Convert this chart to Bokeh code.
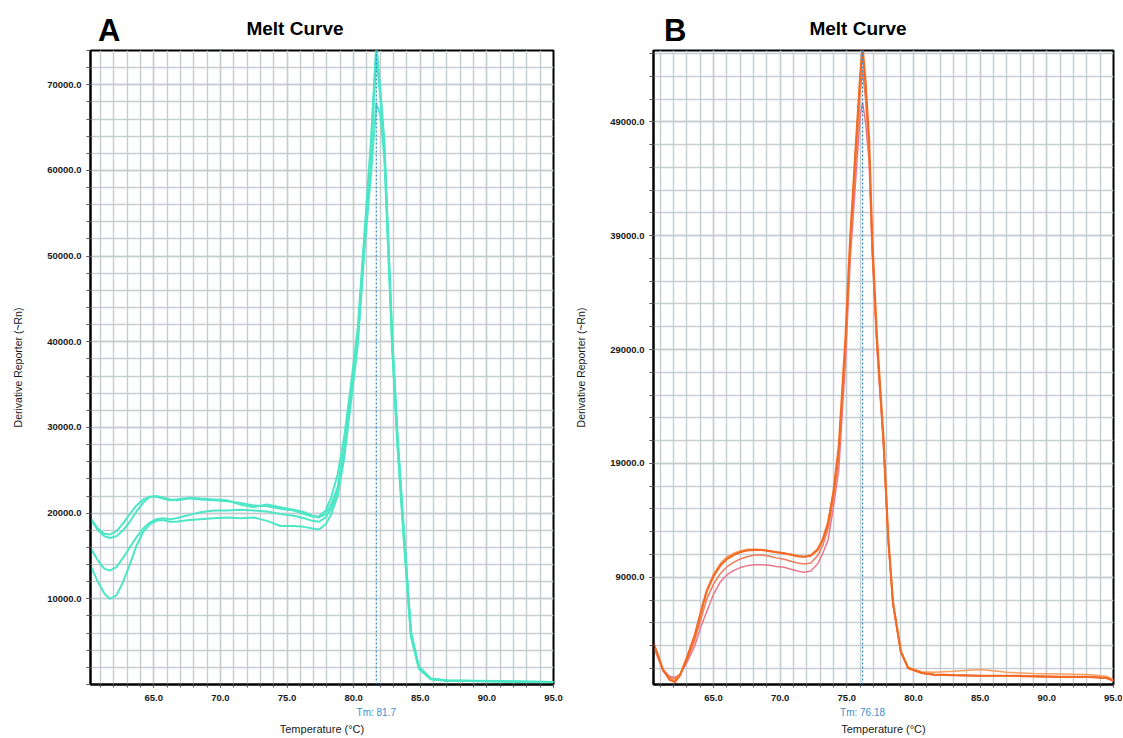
from bokeh.plotting import figure
from bokeh.layouts import row, column
from bokeh.models import (FixedTicker, NumeralTickFormatter, PrintfTickFormatter,
                          LinearAxis, Span, Div)
from bokeh.embed import file_html
from bokeh.resources import INLINE

FONT = "Liberation Sans"

# ---------------- Panel A data (cyan melt curves) ----------------
temp_a = [60.3, 60.8, 61.3, 61.7, 62.2, 62.7, 63.2, 63.7, 64.2, 64.7, 65.2, 65.7, 66.2, 66.7,
          67.2, 67.7, 68.5, 69.5, 70.5, 71.5, 72.5, 73.5, 74.5, 75.5, 76.3, 76.9, 77.4, 77.9,
          78.3, 78.8, 79.3, 79.8, 80.3, 80.8, 81.3, 81.7, 82.0, 82.3, 82.6, 82.9, 83.3, 83.8,
          84.3, 84.9, 85.8, 87.0, 89.0, 91.0, 93.0, 95.0]
a_curve1 = [19300, 18200, 17600, 17500, 17900, 18800, 19900, 20900, 21600, 21900, 21900, 21700, 21500, 21600,
            21700, 21700, 21600, 21500, 21400, 21200, 20900, 20800, 20500, 20300, 19900, 19600, 19600, 20300,
            21800, 24500, 29000, 35000, 41500, 52500, 63500, 74800, 69500, 63500, 52000, 40500, 29000, 17400,
            6200, 2100, 700, 500, 450, 400, 350, 300]
a_curve2 = [19200, 18000, 17300, 17100, 17300, 18000, 19000, 20200, 21200, 21900, 22000, 21800, 21600, 21500,
            21600, 21800, 21700, 21600, 21500, 21000, 20700, 21000, 20700, 20400, 20100, 19700, 19500, 19900,
            21000, 23000, 27800, 34000, 40500, 51500, 62500, 74200, 69000, 63000, 51500, 40000, 28500, 17000,
            6000, 2000, 650, 480, 420, 380, 330, 280]
a_curve3 = [15800, 14500, 13500, 13300, 13700, 14800, 16000, 17200, 18200, 18900, 19300, 19400, 19300, 19400,
            19600, 19800, 20100, 20300, 20300, 20400, 20300, 20200, 19900, 19700, 19400, 19100, 19000, 19500,
            20500, 22500, 27000, 33500, 40000, 51000, 61500, 73500, 68500, 62500, 51000, 39500, 28000, 16500,
            5800, 1900, 600, 450, 400, 350, 300, 250]
a_curve4 = [13700, 12000, 10600, 10000, 10400, 12000, 14000, 16200, 17800, 18700, 19100, 19200, 19000, 19000,
            19100, 19200, 19300, 19400, 19500, 19400, 19500, 19100, 18500, 18500, 18400, 18200, 18100, 18700,
            19800, 22000, 26500, 33000, 39500, 50500, 59500, 67800, 66500, 61500, 50500, 39000, 27500, 16000,
            5500, 1800, 600, 450, 400, 350, 300, 250]
tm_a = 81.7

# ---------------- Panel B data (orange melt curves) ----------------
temp_b = [60.3, 60.7, 61.2, 61.7, 62.1, 62.5, 63.0, 63.6, 64.1, 64.5, 65.0, 65.5, 66.0, 66.5, 67.0, 67.5,
          68.1, 68.6, 69.2, 69.7, 70.3, 70.8, 71.3, 71.8, 72.3, 72.8, 73.2, 73.6, 74.0, 74.4, 74.9, 75.25,
          75.7, 76.0, 76.18, 76.4, 76.67, 76.9, 77.26, 77.74, 78.1, 78.46, 79.05, 79.6, 80.6, 81.5, 83.0,
          85.0, 87.0, 89.0, 91.0, 93.0, 94.5, 95.0]
b_curve1 = [3800, 2600, 900, 0, -200, 400, 1900, 3900, 6100, 7800, 9100, 10000, 10600, 10950, 11200, 11350,
            11400, 11400, 11300, 11200, 11100, 11000, 10850, 10800, 10900, 11400, 12300, 13800, 16500, 20500, 30000, 38700,
            47400, 53000, 55600, 52500, 47400, 38700, 30000, 21300, 12600, 6800, 2480, 1030, 600, 450, 400,
            350, 350, 300, 250, 250, 150, -100]
b_curve2 = [3700, 2500, 800, 100, 0, 500, 2000, 4000, 6300, 7900, 9300, 10200, 10800, 11100, 11300, 11450,
            11450, 11400, 11300, 11200, 11100, 10950, 10850, 10800, 10950, 11500, 12400, 13900, 16600, 20400, 29500, 38300,
            47000, 52500, 55000, 52000, 47000, 38500, 29800, 21200, 12500, 6700, 2500, 1100, 700, 650, 750,
            900, 650, 550, 500, 450, 300, 0]
b_curve3 = [3600, 2400, 800, 200, 100, 500, 1700, 3500, 5500, 7100, 8400, 9300, 9900, 10300, 10600, 10800,
            10950, 10950, 10850, 10700, 10580, 10400, 10250, 10160, 10250, 10880, 11800, 13300, 16000, 19500, 29000, 37800,
            46000, 51500, 53600, 51000, 46500, 38000, 29500, 21000, 12400, 6700, 2450, 1000, 600, 450, 400,
            350, 350, 300, 250, 250, 150, -100]
b_curve4 = [3500, 2300, 900, 300, 200, 500, 1500, 3000, 4800, 6000, 7500, 8570, 9200, 9580, 9850, 10000,
            10100, 10100, 10050, 9950, 9870, 9700, 9550, 9430, 9550, 10160, 11100, 12300, 15200, 18500, 28000, 36800,
            44500, 49500, 50700, 49000, 45500, 37500, 29000, 20800, 12300, 6600, 2400, 1000, 600, 450, 400,
            350, 350, 300, 250, 250, 150, -100]
tm_b = 76.18

# ---------------- ticks ----------------
x_major = [65, 70, 75, 80, 85, 90, 95]
x_minor = list(range(61, 96))
ya_major = [10000, 20000, 30000, 40000, 50000, 60000, 70000]
ya_minor = list(range(0, 74001, 2000))
yb_major = [9000, 19000, 29000, 39000, 49000]
yb_minor = list(range(-1000, 56000, 2000))

GRID = "#c6cdd1"
TM_COLOR = "#3b8fd2"
HEADER_H = 42
FIG_H = 695


def make_panel(width, xr, yr, border_left, border_right, ymaj, ymin, tm, tm_fmt):
    p = figure(width=width, height=FIG_H, x_range=xr, y_range=yr,
               output_backend="svg", toolbar_location=None,
               min_border_left=border_left, min_border_right=border_right,
               min_border_top=8, min_border_bottom=51)
    p.background_fill_color = "white"
    p.border_fill_color = "white"
    p.outline_line_color = "black"
    p.outline_line_width = 2
    p.outline_line_alpha = 1

    p.xaxis.ticker = FixedTicker(ticks=x_major, minor_ticks=x_minor)
    p.yaxis.ticker = FixedTicker(ticks=ymaj, minor_ticks=ymin)
    p.xaxis.formatter = NumeralTickFormatter(format="0.0")
    p.yaxis.formatter = NumeralTickFormatter(format="0.0")

    for ax in (p.xaxis[0], p.yaxis[0]):
        ax.axis_line_color = "black"
        ax.axis_line_width = 2
        ax.major_tick_out = 4
        ax.major_tick_in = 0
        ax.minor_tick_out = 4
        ax.minor_tick_in = 0
        ax.major_tick_line_color = "#555555"
        ax.minor_tick_line_color = "#555555"
        ax.major_label_text_font = FONT
        ax.major_label_text_font_size = "9.5px"
        ax.major_label_text_font_style = "bold"
        ax.major_label_text_color = "#1a1a1a"
        ax.major_label_standoff = 5
    p.xaxis.major_tick_out = 3
    p.xaxis.minor_tick_out = 3
    p.xaxis.major_label_standoff = 7

    p.yaxis.axis_label = "Derivative Reporter (~Rn)"
    p.yaxis.axis_label_text_font = FONT
    p.yaxis.axis_label_text_font_size = "10.5px"
    p.yaxis.axis_label_text_font_style = "normal"
    p.yaxis.axis_label_text_color = "#1a1a1a"
    p.yaxis.axis_label_standoff = 20

    # second bottom axis: carries the Tm label and the x-axis title
    tm_axis = LinearAxis(ticker=FixedTicker(ticks=[tm]),
                         formatter=PrintfTickFormatter(format=tm_fmt))
    tm_axis.axis_line_color = None
    tm_axis.major_tick_line_color = None
    tm_axis.minor_tick_line_color = None
    tm_axis.major_tick_out = 0
    tm_axis.major_tick_in = 0
    tm_axis.major_label_standoff = 3
    tm_axis.major_label_text_font = FONT
    tm_axis.major_label_text_font_size = "10px"
    tm_axis.major_label_text_color = TM_COLOR
    tm_axis.axis_label = "Temperature (°C)"
    tm_axis.axis_label_text_font = FONT
    tm_axis.axis_label_text_font_size = "11px"
    tm_axis.axis_label_text_font_style = "normal"
    tm_axis.axis_label_text_color = "#1a1a1a"
    tm_axis.axis_label_standoff = 2
    p.add_layout(tm_axis, "below")

    p.xgrid.grid_line_color = GRID
    p.xgrid.minor_grid_line_color = GRID
    p.ygrid.grid_line_color = GRID
    p.ygrid.minor_grid_line_color = GRID
    for g in (p.xgrid[0], p.ygrid[0]):
        g.grid_line_width = 1.4
        g.minor_grid_line_width = 1.4

    p.add_layout(Span(location=tm, dimension="height", line_color="#2f86c8",
                      line_width=1.2, line_dash="2 2"))
    return p


# ---------------- Panel A ----------------
pa = make_panel(568, (60.25, 95), (0, 74000), 90, 15, ya_major, ya_minor, tm_a, "Tm: %.1f")
cyan = "#4de6c6"
for ys in (a_curve1, a_curve2, a_curve3, a_curve4):
    pa.line(temp_a, ys, line_color=cyan, line_width=2)

# ---------------- Panel B ----------------
pb = make_panel(554, (60.5, 95), (-420, 55260), 85, 9, yb_major, yb_minor, tm_b, "Tm: %.2f")
colors_b = ["#f26a24", "#f6a060", "#f07a5c", "#e9778c"]
widths_b = [2.2, 1.5, 1.5, 1.5]
for ys, c, w in zip((b_curve4, b_curve3, b_curve2, b_curve1), colors_b[::-1], widths_b[::-1]):
    pb.line(temp_b, ys, line_color=c, line_width=w)

# ---------------- header: panel letters and titles ----------------
def hdr(text, left, top, size, center=False):
    tr = "transform:translateX(-50%);" if center else ""
    return (f'<span style="position:absolute;left:{left}px;top:{top}px;{tr}'
            f'font-family:\'{FONT}\',Arial,sans-serif;font-weight:bold;font-size:{size}px;'
            f'line-height:1;white-space:nowrap;color:#000;">{text}</span>')

header_html = ('<div style="position:relative;width:1122px;height:42px;">'
               + hdr("A", 98, 15, 31)
               + hdr("Melt Curve", 295, 19, 19, center=True)
               + hdr("B", 664, 15, 31)
               + hdr("Melt Curve", 858, 19, 19, center=True)
               + '</div>')
header = Div(text=header_html, width=1122, height=HEADER_H, margin=0)

layout = column(header, row(pa, pb))
open("out.html", "w").write(file_html(layout, INLINE))
